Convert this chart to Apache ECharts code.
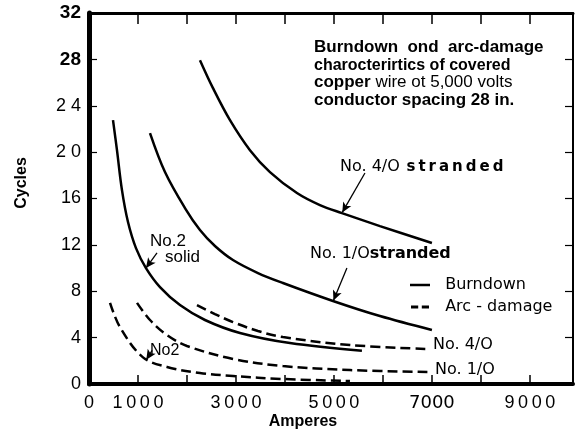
<!DOCTYPE html>
<html><head><meta charset="utf-8">
<script src="https://cdn.jsdelivr.net/npm/echarts@6/dist/echarts.min.js"></script>
<style>html,body{margin:0;padding:0;background:#fff}#c{width:575px;height:435px}</style>
</head><body><div id="c"></div>
<script>
// ---- data ----
const xTickValues = [0, 1000, 3000, 5000, 7000, 9000];
const xTickLabels = ['0', '1\u20090\u20090\u20090', '3\u20090\u20090\u20090', '5\u20090\u20090\u20090', '7000', '9\u20090\u20090\u20090'];
const yTickLabels = ['0', '4', '8', '12', '16', '2 0', '2 4', '28', '32'];

// Burndown (solid)
const burnNo2Solid = [[490,22.76],[571,20.17],[673,16.72],[796,13.97],[959,11.72],[1163,10.0],[1449,8.36],[1857,6.81],[2367,5.52],[3082,4.40],[4102,3.53],[5571,2.86]];
const burnNo10 = [[1245,21.64],[1551,18.28],[1959,15.17],[2265,13.28],[2571,11.9],[2939,10.69],[3449,9.57],[3959,8.71],[4980,7.16],[5939,5.86],[7000,4.66]];
const burnNo40 = [[2265,27.93],[2531,25.52],[2878,22.76],[3286,20.17],[3694,18.28],[4245,16.47],[4714,15.43],[5163,14.74],[5939,13.62],[7000,12.16]];
// Arc damage (dashed)
const arcNo2 = [[429,7.0],[633,4.9],[1102,2.3],[1592,1.47],[2265,0.95],[2939,0.69],[3959,0.43],[5327,0.26]];
const arcNo10 = [[980,7.0],[1245,5.52],[1592,4.22],[2000,3.28],[2939,2.16],[3959,1.55],[5327,1.2],[6918,1.03]];
const arcNo40 = [[2204,6.81],[2571,6.03],[2939,5.34],[3449,4.57],[3959,4.05],[5327,3.36],[6918,3.02]];

// ---- chart ----
const chart = echarts.init(document.getElementById('c'), null, {renderer: 'canvas'});
const SANS = 'Liberation Sans, Arial, sans-serif';
const ROUND = 'DejaVu Sans, sans-serif';
const XMAX = 9880;

function arrow(from, to) {
  return {
    silent: true, symbol: ['none', 'arrow'], symbolSize: [7, 10],
    lineStyle: {color: '#000', width: 1.3, type: 'solid'},
    label: {show: false}, animation: false,
    data: [[{coord: from}, {coord: to}]]
  };
}
function solid(data, extra) {
  return Object.assign({
    type: 'line', name: 'Burndown', data, showSymbol: false, symbol: 'none',
    smooth: 0.35, silent: true,
    lineStyle: {color: '#000', width: 2.5, type: 'solid'}, itemStyle: {color: '#000'}
  }, extra || {});
}
function dashed(data) {
  return {
    type: 'line', name: 'Arc - damage', data, showSymbol: false, symbol: 'none',
    smooth: 0.35, silent: true,
    lineStyle: {color: '#000', width: 2.5, type: [10, 5]}, itemStyle: {color: '#000'}
  };
}

const option = {
  animation: false,
  backgroundColor: '#fff',
  grid: {left: 89, right: 2, top: 13, bottom: 51, containLabel: false, outerBoundsMode: 'none'},
  title: {
    left: 314, top: 39, padding: 0,
    text: '{a|Burndown  ond  arc-damage}\n{b|charocterirtics of covered}\n{c|copper}{d| wire ot 5,000 volts}\n{e|conductor spacing 28 in.}',
    textStyle: {
      rich: {
        a: {fontFamily: SANS, fontWeight: 'bold', fontSize: 17, lineHeight: 17.5, color: '#000'},
        b: {fontFamily: SANS, fontWeight: 'bold', fontSize: 16, lineHeight: 17.5, color: '#000'},
        c: {fontFamily: SANS, fontWeight: 'bold', fontSize: 17, lineHeight: 17.5, color: '#000'},
        d: {fontFamily: SANS, fontWeight: 'normal', fontSize: 17, lineHeight: 17.5, color: '#000'},
        e: {fontFamily: SANS, fontWeight: 'bold', fontSize: 17, lineHeight: 17.5, color: '#000'}
      }
    }
  },
  legend: {
    orient: 'vertical', left: 410, top: 276, padding: 0, itemGap: 4,
    itemWidth: 20, itemHeight: 3, selectedMode: false,
    data: [
      {name: 'Burndown', icon: 'path://M0,0 L20,0 L20,2.5 L0,2.5 Z', itemStyle: {color: '#000'}},
      {name: 'Arc - damage', icon: 'path://M0,0 L6,0 L6,2.5 L0,2.5 Z M9,0 L15,0 L15,2.5 L9,2.5 Z', itemStyle: {color: '#000'}}
    ],
    formatter: n => '  ' + n,
    textStyle: {fontFamily: ROUND, fontSize: 16, lineHeight: 18, color: '#000'}
  },
  xAxis: [{
    type: 'value', position: 'bottom', min: 0, max: XMAX, interval: 1000,
    axisLine: {show: true, onZero: false, lineStyle: {color: '#000', width: 4}},
    axisTick: {show: true, inside: true, length: 9, lineStyle: {color: '#000', width: 1.5}},
    splitLine: {show: false},
    axisLabel: {
      show: true, margin: 10, showMaxLabel: false,
      formatter: v => {
        const i = xTickValues.indexOf(v);
        if (i < 0) return '';
        return v === 7000 ? '{r|' + xTickLabels[i] + '}' : xTickLabels[i];
      },
      fontFamily: SANS, fontSize: 18, color: '#000',
      rich: {r: {fontFamily: ROUND, fontSize: 18, color: '#000'}}
    }
  }, {
    type: 'value', position: 'top', min: 0, max: XMAX, interval: 1000,
    axisLine: {show: true, onZero: false, lineStyle: {color: '#000', width: 3}},
    axisTick: {show: true, inside: true, length: 11, lineStyle: {color: '#000', width: 1.5}},
    splitLine: {show: false}, axisLabel: {show: false}
  }],
  yAxis: [{
    type: 'value', position: 'left', min: 0, max: 32, interval: 4,
    axisLine: {show: true, onZero: false, lineStyle: {color: '#000', width: 5}},
    axisTick: {show: true, inside: true, length: 8, lineStyle: {color: '#000', width: 1.2}},
    splitLine: {show: false},
    axisLabel: {
      margin: 8,
      formatter: v => {
        const s = yTickLabels[Math.round(v / 4)];
        return v >= 28 ? '{b|' + s + '}' : s;
      },
      fontFamily: SANS, fontSize: 18, color: '#000',
      rich: {b: {fontFamily: SANS, fontSize: 19, fontWeight: 'bold', color: '#000'}}
    }
  }, {
    type: 'value', position: 'right', min: 0, max: 32, interval: 4,
    axisLine: {show: true, onZero: false, lineStyle: {color: '#000', width: 2}},
    axisTick: {show: true, inside: true, length: 8, lineStyle: {color: '#000', width: 1.2}},
    splitLine: {show: false}, axisLabel: {show: false}
  }],
  series: [
    solid(burnNo2Solid, {markLine: arrow([1388, 11.3], [1163, 10.0])}),
    solid(burnNo10, {markLine: arrow([5265, 10.0], [4990, 7.2])}),
    solid(burnNo40, {markLine: arrow([5633, 18.2], [5170, 14.8])}),
    Object.assign(dashed(arcNo2), {markLine: arrow([1290, 2.9], [1170, 2.1])}),
    dashed(arcNo10),
    dashed(arcNo40)
  ],
  graphic: [
    {type: 'text', x: 22, y: 183, rotation: Math.PI / 2, silent: true,
      style: {text: 'Cycles', fontFamily: SANS, fontWeight: 'bold', fontSize: 16, fill: '#000', align: 'center', verticalAlign: 'middle'}},
    {type: 'text', x: 303, y: 422, silent: true,
      style: {text: 'Amperes', fontFamily: SANS, fontWeight: 'bold', fontSize: 16, fill: '#000', align: 'center', verticalAlign: 'middle'}},
    {type: 'text', x: 340, y: 167, silent: true,
      style: {text: '{n|No. 4/O}  {s|s\u2009t\u2009r\u2009a\u2009n\u2009d\u2009e\u2009d}', verticalAlign: 'middle',
        rich: {n: {fontFamily: ROUND, fontSize: 16, fill: '#000'}, s: {fontFamily: ROUND, fontSize: 15, fontWeight: 'bold', fill: '#000'}}}},
    {type: 'text', x: 310, y: 254, silent: true,
      style: {text: '{n|No. 1/O}{s|stranded}', verticalAlign: 'middle',
        rich: {n: {fontFamily: ROUND, fontSize: 16, fill: '#000'}, s: {fontFamily: ROUND, fontSize: 16, fontWeight: 'bold', fill: '#000'}}}},
    {type: 'text', x: 150, y: 241, silent: true,
      style: {text: 'No.2', fontFamily: SANS, fontSize: 17, fill: '#000', verticalAlign: 'middle'}},
    {type: 'text', x: 165, y: 257, silent: true,
      style: {text: 'solid', fontFamily: SANS, fontSize: 17, fill: '#000', verticalAlign: 'middle'}},
    {type: 'text', x: 150, y: 351, silent: true,
      style: {text: 'No2', fontFamily: SANS, fontSize: 16, fill: '#000', verticalAlign: 'middle'}},
    {type: 'text', x: 433, y: 345, silent: true,
      style: {text: 'No. 4/O', fontFamily: ROUND, fontSize: 16, fill: '#000', verticalAlign: 'middle'}},
    {type: 'text', x: 435, y: 370, silent: true,
      style: {text: 'No. 1/O', fontFamily: ROUND, fontSize: 16, fill: '#000', verticalAlign: 'middle'}}
  ]
};
chart.setOption(option);
</script>
</body></html>
